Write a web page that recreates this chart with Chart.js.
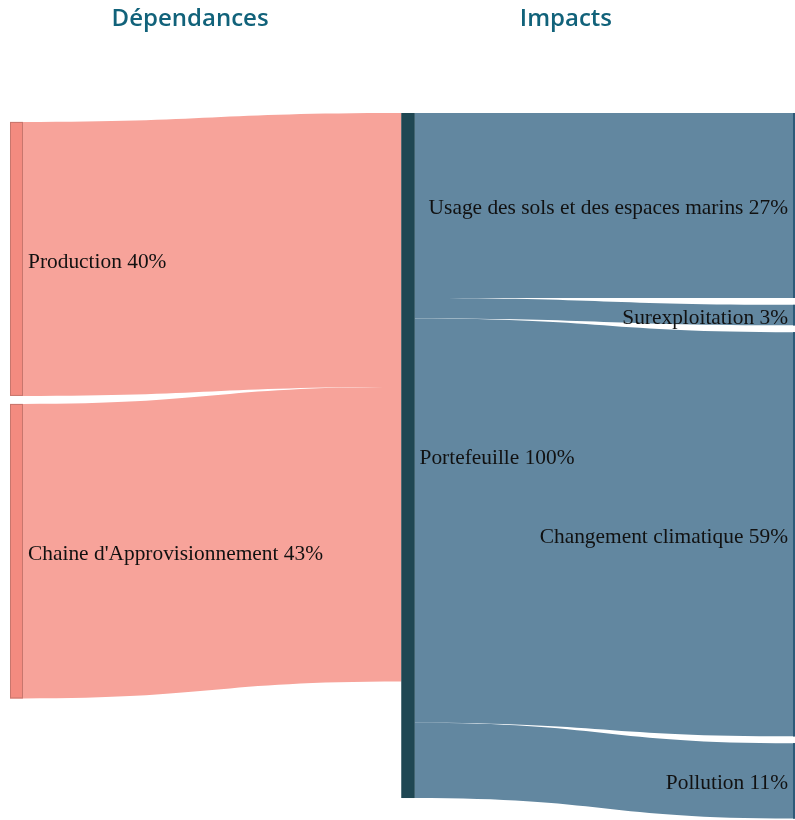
<!DOCTYPE html>
<html>
<head>
<meta charset="utf-8">
<script src="https://cdn.jsdelivr.net/npm/chart.js@4"></script>
<style>
  html, body { margin: 0; padding: 0; background: #fff; }
  #wrap { width: 795px; height: 820px; position: relative; overflow: hidden; }
</style>
</head>
<body>
<div id="wrap"><canvas id="sankey"></canvas></div>
<script>
// nodes
const nodeNames = ["Production", "Chaine d'Approvisionnement", "Portefeuille",
    "Usage des sols et des espaces marins", "Surexploitation", "Changement climatique", "Pollution"];
const nodeColumns = [0, 0, 1, 2, 2, 2, 2];
const nodeValues = [40, 43, 100, 27, 3, 59, 11];

// flows (source -> target)
const flowFrom = [0, 1, 2, 2, 2, 2];
const flowTo = [2, 2, 3, 4, 5, 6];
const flowValues = [40, 43, 27, 3, 59, 11];

const columnTitles = ["Dépendances", "Impacts"];

// layout (value units on the y axis, column units on the x axis)
const columnStart = [1.3, 0, 0];
const columnGap = [1.17, 0, 1.0];
const nodeWidth = 0.0332;
const titleX = [0.46, 1.42];

const nodeFill = ["#f38b80", "#f38b80", "#1f4753", "#2e5a78", "#2e5a78", "#2e5a78", "#2e5a78"];
const nodeBorder = ["#c8766d", "#c8766d", "#1f4753", "#2e5a78", "#2e5a78", "#2e5a78", "#2e5a78"];
const flowFill = ["#f7a39a", "#f7a39a", "#6287a0", "#6287a0", "#6287a0", "#6287a0"];

function layoutNodes() {
    const nodes = [];
    const cursor = {};
    for (let i = 0; i < nodeNames.length; i++) {
        const col = nodeColumns[i];
        if (cursor[col] === undefined) {
            cursor[col] = columnStart[col];
        } else {
            cursor[col] += columnGap[col];
        }
        const y0 = cursor[col];
        const y1 = y0 + nodeValues[i];
        cursor[col] = y1;
        nodes.push({ col, y0, y1, outY: y0, inY: y0 });
    }
    return nodes;
}

const sankeyPlugin = {
    id: "sankeyPlugin",
    afterDatasetsDraw(chart) {
        const ctx = chart.ctx;
        const xs = chart.scales.x;
        const ys = chart.scales.y;
        const nodes = layoutNodes();

        // flows
        for (let f = 0; f < flowValues.length; f++) {
            const s = nodes[flowFrom[f]];
            const t = nodes[flowTo[f]];
            const v = flowValues[f];
            const sy0 = ys.getPixelForValue(s.outY);
            const sy1 = ys.getPixelForValue(s.outY + v);
            const ty0 = ys.getPixelForValue(t.inY);
            const ty1 = ys.getPixelForValue(t.inY + v);
            s.outY += v;
            t.inY += v;

            const x0 = xs.getPixelForValue(s.col + nodeWidth);
            const x1 = xs.getPixelForValue(t.col);
            const xm = (x0 + x1) / 2;

            ctx.save();
            ctx.fillStyle = flowFill[f];
            ctx.beginPath();
            ctx.moveTo(x0, sy0);
            ctx.bezierCurveTo(xm, sy0, xm, ty0, x1, ty0);
            ctx.lineTo(x1, ty1);
            ctx.bezierCurveTo(xm, ty1, xm, sy1, x0, sy1);
            ctx.closePath();
            ctx.fill();
            ctx.restore();
        }

        // nodes
        for (let i = 0; i < nodes.length; i++) {
            const n = nodes[i];
            const left = xs.getPixelForValue(n.col);
            const right = xs.getPixelForValue(n.col + nodeWidth);
            const top = ys.getPixelForValue(n.y0);
            const bottom = ys.getPixelForValue(n.y1);
            ctx.save();
            ctx.fillStyle = nodeFill[i];
            ctx.fillRect(left, top, right - left, bottom - top);
            ctx.strokeStyle = nodeBorder[i];
            ctx.lineWidth = 1;
            ctx.strokeRect(left + 0.5, top + 0.5, right - left - 1, bottom - top - 1);
            ctx.restore();
        }

        // labels
        ctx.save();
        ctx.font = "21.4px 'Liberation Serif', 'Times New Roman', serif";
        ctx.fillStyle = "#111";
        ctx.textBaseline = "middle";
        for (let i = 0; i < nodes.length; i++) {
            const n = nodes[i];
            const text = nodeNames[i] + " " + nodeValues[i] + "%";
            const yMid = ys.getPixelForValue((n.y0 + n.y1) / 2) + 3;
            if (n.col === 2) {
                ctx.textAlign = "right";
                ctx.fillText(text, xs.getPixelForValue(n.col) - 5, yMid);
            } else {
                ctx.textAlign = "left";
                ctx.fillText(text, xs.getPixelForValue(n.col + nodeWidth) + 5, yMid);
            }
        }
        ctx.restore();

        // column titles
        ctx.save();
        ctx.font = "600 24px 'Open Sans', sans-serif";
        ctx.fillStyle = "#11627a";
        ctx.textAlign = "center";
        ctx.textBaseline = "middle";
        for (let c = 0; c < columnTitles.length; c++) {
            ctx.fillText(columnTitles[c], xs.getPixelForValue(titleX[c]), 19);
        }
        ctx.restore();
    }
};

new Chart(document.getElementById("sankey"), {
    type: "scatter",
    data: { datasets: [{ data: [] }] },
    options: {
        responsive: true,
        maintainAspectRatio: false,
        devicePixelRatio: 1,
        animation: false,
        layout: { padding: 0 },
        plugins: {
            legend: { display: false },
            tooltip: { enabled: false },
            title: { display: false }
        },
        scales: {
            x: { type: "linear", min: -0.02554, max: 2.00511, display: false },
            y: { type: "linear", min: -16.5, max: 103.21, reverse: true, display: false }
        }
    },
    plugins: [sankeyPlugin]
});
</script>
</body>
</html>
